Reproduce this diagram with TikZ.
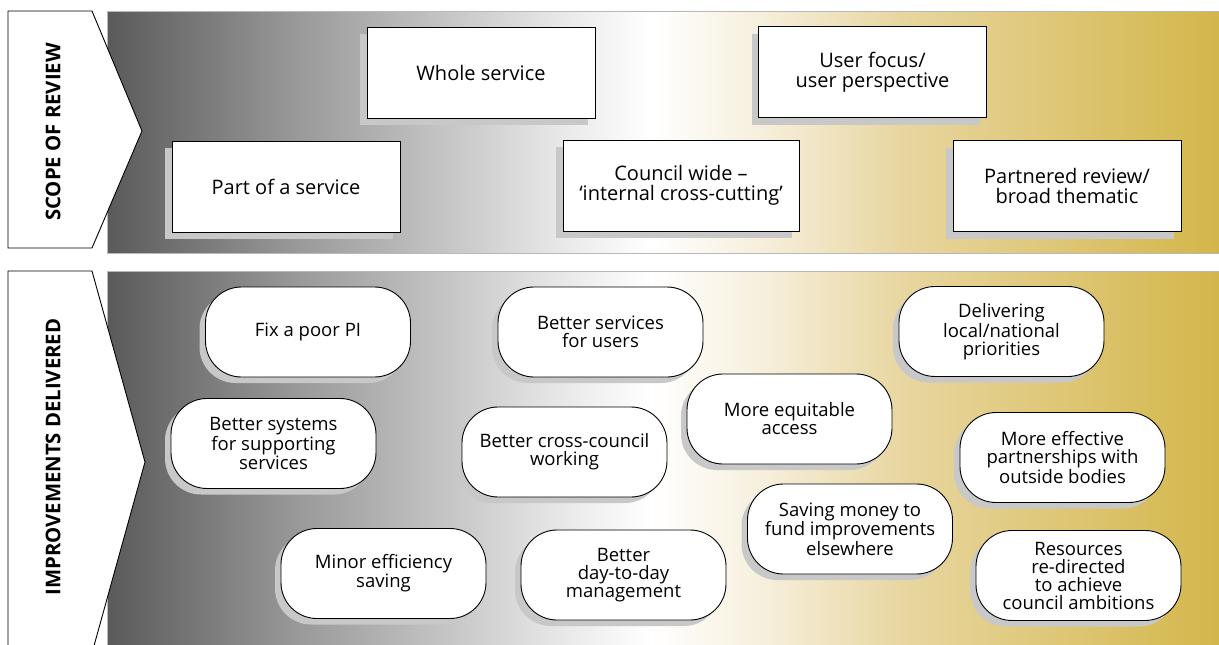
\documentclass[tikz,border=0pt]{standalone}
\usepackage{fontspec}
\setmainfont{Open Sans}
\usetikzlibrary{shadows}
\definecolor{shadowgray}{HTML}{C8C8C8}
\definecolor{gA}{HTML}{5A5A5A}
\definecolor{gB}{HTML}{9A9A9A}
\definecolor{gC}{HTML}{C6C6C6}
\definecolor{gD}{HTML}{E8E8E8}
\definecolor{gE}{HTML}{FFFFFF}
\definecolor{gF}{HTML}{F6EFDC}
\definecolor{gG}{HTML}{E8D6A0}
\definecolor{gH}{HTML}{D3B64A}
\pgfdeclarehorizontalshading{panelshade}{100bp}{color(0bp)=(gA); color(25bp)=(gA); color(33.7bp)=(gB); color(40.4bp)=(gC); color(45.4bp)=(gD); color(49.4bp)=(gE); color(54.4bp)=(gF); color(60.7bp)=(gG); color(75bp)=(gH); color(100bp)=(gH)}
\begin{document}
\begin{tikzpicture}[x=1pt,y=-1pt,
  panel/.style={shading=panelshade, draw=gray!55, line width=0.8pt},
  arrowshape/.style={draw=black, fill=white, line width=0.9pt, line join=miter},
  sidelabel/.style={rotate=90, font=\bfseries\fontsize{20.3}{21}\selectfont},
  sbox/.style={draw=black, line width=0.9pt, fill=white, minimum width=228pt, minimum height=91pt, inner sep=0pt, align=center,
    font=\fontsize{20}{20.5}\selectfont,
    drop shadow={shadow xshift=-7pt, shadow yshift=-7pt, opacity=1, fill=shadowgray, draw=none}},
  bubble/.style={draw=black, line width=0.9pt, fill=white, rounded corners=36pt, minimum width=205pt, minimum height=90pt, inner sep=0pt, align=center,
    font=\fontsize{18.5}{18}\selectfont,
    drop shadow={shadow xshift=-6pt, shadow yshift=-6pt, opacity=1, fill=shadowgray, draw=none}}]
\useasboundingbox (0,0) rectangle (1219,645);
\clip (0,0) rectangle (1219,645);
% panels
\path[panel] (107,11) rectangle (1219,253);
\path[panel] (107,271) rectangle (1222,660);
% side arrows
\path[arrowshape] (8,11) -- (92,11) -- (142,131) -- (92,248) -- (8,248) -- cycle;
\path[arrowshape] (8,271) -- (92,271) -- (145,462) -- (92,653) -- (8,653) -- cycle;
\node[sidelabel] (scope) at (53,132) {SCOPE OF REVIEW};
\node[sidelabel] (impr) at (53,457) {IMPROVEMENTS DELIVERED};
% scope boxes
\node[sbox] (whole) at (481,72.5) {Whole service};
\node[sbox] (user) at (872.5,72) {User focus/\\user perspective};
\node[sbox] (part) at (286,186.5) {Part of a service};
\node[sbox, minimum width=236pt] (council) at (681,185.5) {Council wide –\\‘internal cross-cutting’};
\node[sbox] (partnered) at (1067,186) {Partnered review/\\broad thematic};
% improvement bubbles
\node[bubble] (fix) at (308,332) {Fix a poor PI};
\node[bubble] (bsu) at (600.5,332) {Better services\\for users};
\node[bubble] (deliv) at (1001.5,331.5) {Delivering\\local/national\\priorities};
\node[bubble] (bsys) at (273.5,443.5) {Better systems\\for supporting\\services};
\node[bubble] (cross) at (564.5,452) {Better cross-council\\working};
\node[bubble] (equit) at (789.5,419) {More equitable\\access};
\node[bubble] (partn) at (1062.5,457.5) {More effective\\partnerships with\\outside bodies};
\node[bubble] (saving) at (850,529) {Saving money to\\fund improvements\\elsewhere};
\node[bubble] (minor) at (383.5,573.5) {Minor efficiency\\saving};
\node[bubble] (daytoday) at (623.5,575) {Better\\day-to-day\\management};
\node[bubble] (resources) at (1078.5,575.5) {Resources\\re-directed\\to achieve\\council ambitions};
\end{tikzpicture}
\end{document}
